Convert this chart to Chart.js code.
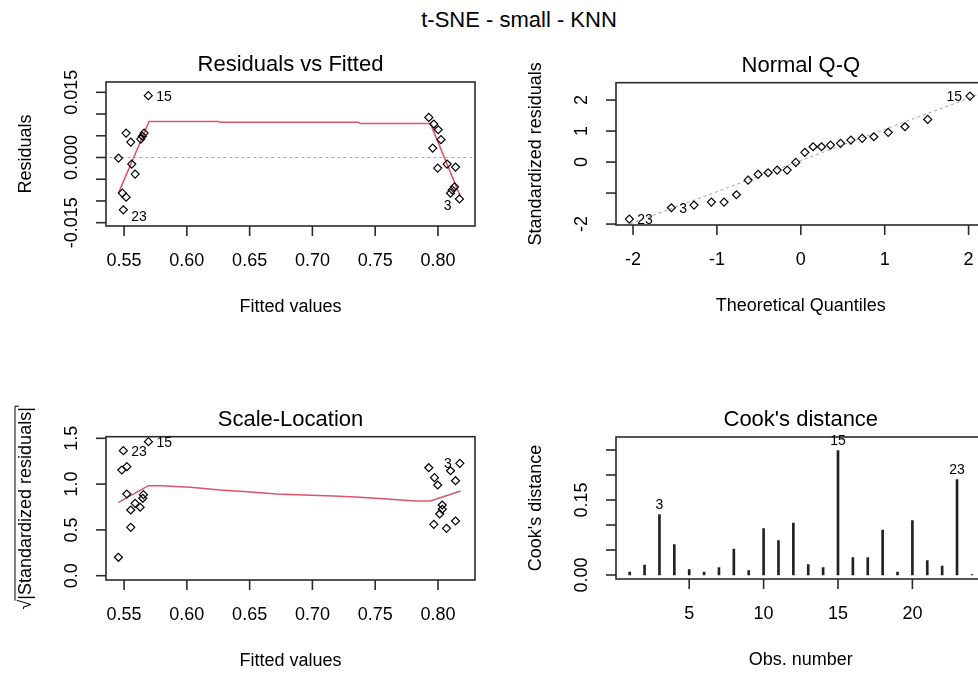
<!DOCTYPE html>
<html>
<head>
<meta charset="utf-8">
<script src="https://cdn.jsdelivr.net/npm/chart.js@4.4.0/dist/chart.umd.min.js"></script>
<style>
  html, body { margin: 0; padding: 0; background: #fff; overflow: hidden; }
  #page { position: relative; width: 978px; height: 673px; overflow: hidden; }
  canvas { position: absolute; }
  #mainTitle {
    position: absolute; left: 0; top: 8px; width: 1038px; text-align: center;
    font: 22px "Liberation Sans", Arial, sans-serif; line-height: 24px; color: #000;
  }
</style>
</head>
<body>
<div id="page">
  <div id="mainTitle">t-SNE - small - KNN</div>
  <canvas id="resFit" width="489" height="336" style="left:0;top:0"></canvas>
  <canvas id="qq" width="520" height="336" style="left:489px;top:0"></canvas>
  <canvas id="scaleLoc" width="489" height="337" style="left:0;top:336px"></canvas>
  <canvas id="cook" width="520" height="337" style="left:489px;top:336px"></canvas>
</div>
<script>
// Residuals vs Fitted
const fittedVals = [0.5693, 0.5516, 0.5553, 0.5659, 0.5646, 0.5633, 0.5455, 0.5561, 0.5588, 0.5486, 0.5516, 0.5494,
                    0.7927, 0.7967, 0.8002, 0.8024, 0.7958, 0.8073, 0.7998, 0.8140, 0.8132, 0.8113, 0.8100, 0.8171];
const residVals = [0.01422, 0.00562, 0.00355, 0.00562, 0.00490, 0.00424, -0.00014, -0.00152, -0.00382, -0.00820, -0.00912, -0.01205,
                   0.00922, 0.00770, 0.00638, 0.00410, 0.00217, -0.00152, -0.00244, -0.00221, -0.00675, -0.00744, -0.00820, -0.00952];
const residSmoothX = [0.5455, 0.5699, 0.6252, 0.6266, 0.7368, 0.7382, 0.7940, 0.8179];
const residSmoothY = [-0.0082, 0.0083, 0.0083, 0.0081, 0.0081, 0.0078, 0.0078, -0.0090];

// Normal Q-Q
const theoQuant = [-2.044, -1.543, -1.273, -1.066, -0.915, -0.767, -0.628, -0.509, -0.390, -0.282, -0.163, -0.060,
                   0.048, 0.147, 0.247, 0.354, 0.474, 0.597, 0.732, 0.871, 1.042, 1.242, 1.513, 2.017];
const stdResid = [-1.839, -1.474, -1.387, -1.290, -1.290, -1.055, -0.581, -0.397, -0.345, -0.258, -0.258, -0.010,
                  0.313, 0.494, 0.494, 0.548, 0.603, 0.710, 0.765, 0.816, 0.958, 1.139, 1.377, 2.129];
const qqLineX = [-2.5, 2.5];
const qqLineY = [-2.46, 2.56];

// Scale-Location
const slFitted = [0.5455, 0.5494, 0.5694, 0.5482, 0.5522, 0.5522, 0.5553, 0.5588, 0.5628, 0.5654, 0.5649, 0.5553,
                  0.7927, 0.7972, 0.7998, 0.8100, 0.8174, 0.8140, 0.8034, 0.8034, 0.8014, 0.7967, 0.8068, 0.8140];
const slSqrtResid = [0.201, 1.365, 1.463, 1.154, 1.190, 0.892, 0.717, 0.790, 0.747, 0.885, 0.845, 0.528,
                     1.179, 1.070, 0.990, 1.146, 1.227, 1.037, 0.772, 0.725, 0.674, 0.561, 0.517, 0.597];
const slSmoothX = [0.5455, 0.5694, 0.5800, 0.6026, 0.6266, 0.6478, 0.6718, 0.6930, 0.7169, 0.7382, 0.7595, 0.7820, 0.7940, 0.8180];
const slSmoothY = [0.801, 0.983, 0.983, 0.965, 0.936, 0.917, 0.892, 0.881, 0.870, 0.856, 0.837, 0.816, 0.816, 0.925];

// Cook's distance
const obsNumber = [1, 2, 3, 4, 5, 6, 7, 8, 9, 10, 11, 12, 13, 14, 15, 16, 17, 18, 19, 20, 21, 22, 23, 24];
const cookDist = [0.006, 0.020, 0.121, 0.061, 0.011, 0.006, 0.015, 0.052, 0.009, 0.093, 0.069, 0.104,
                  0.021, 0.015, 0.249, 0.035, 0.035, 0.090, 0.006, 0.109, 0.029, 0.018, 0.191, 0.001];

// axis ticks and their printed labels ('' = tick without label)
const fitTicks = [0.55, 0.60, 0.65, 0.70, 0.75, 0.80];
const fitTickLabels = ['0.55', '0.60', '0.65', '0.70', '0.75', '0.80'];
const residTicks = [-0.015, -0.010, -0.005, 0, 0.005, 0.010, 0.015];
const residTickLabels = ['-0.015', '', '', '0.000', '', '', '0.015'];
const qqXTicks = [-2, -1, 0, 1, 2];
const qqXTickLabels = ['-2', '-1', '0', '1', '2'];
const qqYTicks = [-2, -1, 0, 1, 2];
const qqYTickLabels = ['-2', '', '0', '1', '2'];
const slTicks = [0, 0.5, 1, 1.5];
const slTickLabels = ['0.0', '0.5', '1.0', '1.5'];
const obsTicks = [5, 10, 15, 20];
const obsTickLabels = ['5', '10', '15', '20'];
const cookTicks = [0, 0.05, 0.10, 0.15, 0.20, 0.25];
const cookTickLabels = ['0.00', '', '', '0.15', '', ''];

const FONT = '"Liberation Sans", Arial, sans-serif';
const RED = '#DF536B';

const xy = (xs, ys) => xs.map((v, i) => ({ x: v, y: ys[i] }));

// base-graphics style frame: box, outward ticks, rotated y labels, titles, point ids
const rFrame = {
  id: 'rFrame',
  afterDraw(chart, args, o) {
    const { ctx, chartArea: a } = chart;
    const sx = chart.scales.x, sy = chart.scales.y;
    const seg = (x1, y1, x2, y2) => { ctx.beginPath(); ctx.moveTo(x1, y1); ctx.lineTo(x2, y2); ctx.stroke(); };
    ctx.save();
    ctx.strokeStyle = '#2b2b2b';
    ctx.lineWidth = 1.6;
    ctx.strokeRect(a.left, a.top, a.right - a.left, a.bottom - a.top);
    ctx.fillStyle = '#000';
    ctx.font = '18px ' + FONT;
    ctx.textAlign = 'center';
    ctx.textBaseline = 'middle';

    o.xTicks.forEach((v, i) => {
      const px = sx.getPixelForValue(v);
      seg(px, a.bottom, px, a.bottom + 10);
      if (o.xLabels[i]) ctx.fillText(o.xLabels[i], px, a.bottom + 35);
    });
    o.yTicks.forEach((v, i) => {
      const py = sy.getPixelForValue(v);
      seg(a.left - 10, py, a.left, py);
      if (o.yLabels[i]) {
        ctx.save();
        ctx.translate(a.left - 34, py);
        ctx.rotate(-Math.PI / 2);
        ctx.fillText(o.yLabels[i], 0, 0);
        ctx.restore();
      }
    });

    const cx = (a.left + a.right) / 2;
    const cy = (a.top + a.bottom) / 2;
    ctx.fillText(o.xTitle, cx, a.bottom + 81);

    // y axis title, optionally under a square root sign
    ctx.save();
    ctx.translate(a.left - 80, cy);
    ctx.rotate(-Math.PI / 2);
    if (o.sqrtTitle) {
      const full = '\u221A' + o.yTitle;
      const w = ctx.measureText(full).width;
      const w0 = ctx.measureText('\u221A').width;
      ctx.fillText(full, 0, 0);
      ctx.lineWidth = 1;
      ctx.strokeStyle = '#000';
      const top = -11;
      seg(-w / 2 + w0 - 1, top, w / 2 + 1, top);
      seg(w / 2 + 1, top, w / 2 + 1, top + 4);
    } else {
      ctx.fillText(o.yTitle, 0, 0);
    }
    ctx.restore();

    ctx.font = '22px ' + FONT;
    ctx.fillText(o.title, cx, a.top - 17);

    // identified observations
    ctx.font = '14px ' + FONT;
    const pts = chart.getDatasetMeta(0).data;
    (o.ids || []).forEach(id => {
      const p = pts[id.i];
      const dy = 1 + (id.dy || 0);
      if (id.side === 'right') { ctx.textAlign = 'left'; ctx.fillText(id.text, p.x + 8, p.y + dy); }
      else if (id.side === 'left') { ctx.textAlign = 'right'; ctx.fillText(id.text, p.x - 8, p.y + dy); }
      else { ctx.textAlign = 'center'; ctx.fillText(id.text, p.x, p.y - 9); }
    });
    ctx.restore();
  }
};

function panel(id, pad, xr, yr, type, datasets, frame) {
  return new Chart(document.getElementById(id), {
    type: type,
    data: { datasets: datasets },
    options: {
      responsive: false,
      animation: false,
      events: [],
      layout: { padding: pad },
      plugins: { legend: { display: false }, tooltip: { enabled: false }, rFrame: frame },
      scales: {
        x: { type: 'linear', display: false, offset: false, min: xr[0], max: xr[1] },
        y: { type: 'linear', display: false, min: yr[0], max: yr[1] }
      }
    },
    plugins: [rFrame]
  });
}

const pointSet = (data) => ({
  type: 'scatter', data: data, showLine: false, clip: false,
  pointStyle: 'rectRot', pointRadius: 4, borderWidth: 1.2,
  borderColor: '#000', backgroundColor: 'rgba(0,0,0,0)'
});
const lineSet = (data, color, dash, width) => ({
  type: 'scatter', data: data, showLine: true, pointRadius: 0,
  borderColor: color, borderWidth: width, borderDash: dash, fill: false
});

panel('resFit', { left: 106, top: 82, right: 14, bottom: 110 }, [0.5356, 0.8295], [-0.01576, 0.01737], 'scatter', [
  pointSet(xy(fittedVals, residVals)),
  lineSet(xy([0.5, 0.85], [0, 0]), '#a8a8a8', [3, 3], 1),
  lineSet(xy(residSmoothX, residSmoothY), RED, [], 1.5)
], {
  title: 'Residuals vs Fitted', xTitle: 'Fitted values', yTitle: 'Residuals',
  xTicks: fitTicks, xLabels: fitTickLabels, yTicks: residTicks, yLabels: residTickLabels,
  ids: [{ i: 0, text: '15', side: 'right' }, { i: 11, text: '23', side: 'right', dy: 6 }, { i: 23, text: '3', side: 'left', dy: 6 }]
});

panel('qq', { left: 127, top: 82.7, right: 23.4, bottom: 111 }, [-2.203, 2.203], [-2.03, 2.56], 'scatter', [
  pointSet(xy(theoQuant, stdResid)),
  lineSet(xy(qqLineX, qqLineY), '#a0a0a0', [3, 3], 1)
], {
  title: 'Normal Q-Q', xTitle: 'Theoretical Quantiles', yTitle: 'Standardized residuals',
  xTicks: qqXTicks, xLabels: qqXTickLabels, yTicks: qqYTicks, yLabels: qqYTickLabels,
  ids: [{ i: 0, text: '23', side: 'right' }, { i: 1, text: '3', side: 'right' }, { i: 23, text: '15', side: 'left' }]
});

panel('scaleLoc', { left: 106, top: 100.7, right: 14, bottom: 93 }, [0.5356, 0.8295], [-0.047, 1.5175], 'scatter', [
  pointSet(xy(slFitted, slSqrtResid)),
  lineSet(xy(slSmoothX, slSmoothY), RED, [], 1.5)
], {
  title: 'Scale-Location', xTitle: 'Fitted values', yTitle: '|Standardized residuals|', sqrtTitle: true,
  xTicks: fitTicks, xLabels: fitTickLabels, yTicks: slTicks, yLabels: slTickLabels,
  ids: [{ i: 1, text: '23', side: 'right' }, { i: 2, text: '15', side: 'right' }, { i: 16, text: '3', side: 'left' }]
});

panel('cook', { left: 127, top: 101, right: 23.4, bottom: 94 }, [0.08, 24.92], [-0.008, 0.276], 'bar', [{
  data: xy(obsNumber, cookDist), base: 0, barThickness: 2,
  backgroundColor: '#222', borderWidth: 0
}], {
  title: "Cook's distance", xTitle: 'Obs. number', yTitle: "Cook's distance",
  xTicks: obsTicks, xLabels: obsTickLabels, yTicks: cookTicks, yLabels: cookTickLabels,
  ids: [{ i: 2, text: '3', side: 'above' }, { i: 14, text: '15', side: 'above' }, { i: 22, text: '23', side: 'above' }]
});
</script>
</body>
</html>
